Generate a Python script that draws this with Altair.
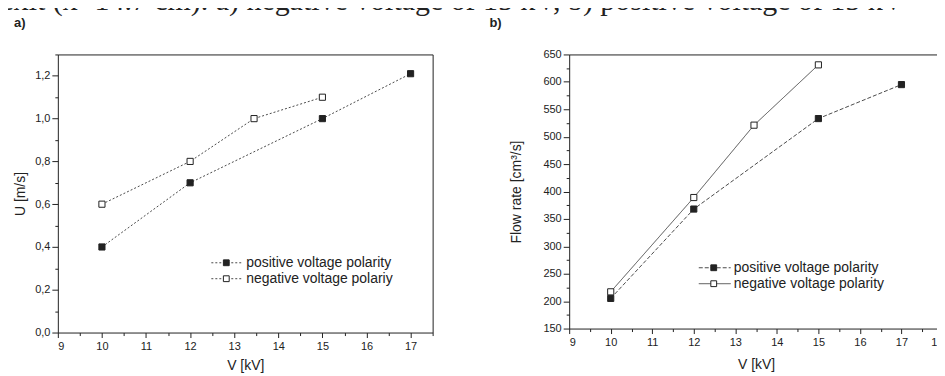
import altair as alt
import pandas as pd

# ---------------- data ----------------
# panel a) velocity U [m/s] vs voltage V [kV]
a_pos_v = [10, 12, 15, 17]
a_pos_u = [0.40, 0.70, 1.00, 1.21]
a_neg_v = [10, 12, 13.45, 15]
a_neg_u = [0.60, 0.80, 1.00, 1.10]
a_labels = ["positive voltage polarity", "negative voltage polariy"]

# panel b) flow rate [cm3/s] vs voltage V [kV]
b_pos_v = [10, 12, 15, 17]
b_pos_q = [205, 368, 533, 595]
b_neg_v = [10, 12, 13.45, 15]
b_neg_q = [217, 389, 521, 631]
b_labels = ["positive voltage polarity", "negative voltage polarity"]

a_xticks = [9, 9.5, 10, 10.5, 11, 11.5, 12, 12.5, 13, 13.5, 14, 14.5, 15, 15.5,
            16, 16.5, 17, 17.5]
a_yticks = [0.0, 0.1, 0.2, 0.3, 0.4, 0.5, 0.6, 0.7, 0.8, 0.9, 1.0, 1.1, 1.2, 1.3]
b_xticks = [9, 9.5, 10, 10.5, 11, 11.5, 12, 12.5, 13, 13.5, 14, 14.5, 15, 15.5,
            16, 16.5, 17, 17.5, 18]
b_yticks = [150, 175, 200, 225, 250, 275, 300, 325, 350, 375, 400, 425, 450,
            475, 500, 525, 550, 575, 600, 625, 650]

caption = "exit (x=14.7 cm). a) negative voltage of 15 kV, b) positive voltage of 15 kV"

FONT = "Liberation Sans"
INK = "#222222"
LINE = "#4a4a4a"


def panel(pv, py, nv, ny, labels, xdom, xticks, ydom, yticks,
          ytitle, ylabexpr, yminor_test, w, h, dash_pos, dash_neg, leg, ttl,
          ttl_dx, yext, ytp, xtp):
    dpos = pd.DataFrame({"V": pv, "Y": py})
    dneg = pd.DataFrame({"V": nv, "Y": ny})
    xs = alt.Scale(domain=xdom, nice=False, zero=False)
    ys = alt.Scale(domain=ydom, nice=False, zero=False)

    xaxis = alt.Axis(values=xticks, title="V [kV]",
                     labelExpr="datum.value % 1 ? '' : format(datum.value, 'd')",
                     tickSize=5,
                     tickDash={"condition": {"test": "datum.value % 1 !== 0", "value": [3, 20]}, "value": [20, 0]},
                     labelPadding=3, labelFontSize=11, titleFontSize=14,
                     titlePadding=xtp, titleFontWeight="normal", grid=False,
                     domain=False, tickColor=INK, labelColor=INK,
                     titleColor=INK, labelFont=FONT, titleFont=FONT,
                     labelOverlap=False)
    yaxis = alt.Axis(values=yticks, title=ytitle, labelExpr=ylabexpr,
                     tickSize=6,
                     tickDash={"condition": {"test": yminor_test, "value": [3, 20]}, "value": [20, 0]},
                     labelPadding=2, labelFontSize=11,
                     titleFontSize=14, titlePadding=ytp, minExtent=yext,
                     maxExtent=yext, titleFontWeight="normal", grid=False,
                     domain=False, tickColor=INK, labelColor=INK,
                     titleColor=INK, labelFont=FONT, titleFont=FONT,
                     labelOverlap=False)

    enc = dict(x=alt.X("V:Q", scale=xs, axis=xaxis),
               y=alt.Y("Y:Q", scale=ys, axis=yaxis))

    def series(d, dash, filled):
        line = alt.Chart(d).mark_line(color=LINE, strokeWidth=1,
                                      strokeDash=dash).encode(**enc)
        pt = alt.Chart(d).mark_point(shape="square", size=38, opacity=1,
                                     filled=True,
                                     fill=INK if filled else "white",
                                     stroke=INK, strokeWidth=1).encode(**enc)
        return [line, pt]

    layers = series(dpos, dash_pos, True) + series(dneg, dash_neg, False)

    # legend drawn by hand
    lx0, lx1, lxm, ltx, ly0, ly1 = leg
    for i, (lab, dash, filled) in enumerate([(labels[0], dash_pos, True),
                                             (labels[1], dash_neg, False)]):
        ly = ly0 if i == 0 else ly1
        dl = pd.DataFrame({"label": [lab]})
        layers.append(alt.Chart(dl).mark_rule(color=LINE, strokeWidth=1,
                                              strokeDash=dash).encode(
            x=alt.value(lx0), x2=alt.value(lx1), y=alt.value(ly)))
        layers.append(alt.Chart(dl).mark_point(shape="square", size=34,
                                               opacity=1, filled=True,
                                               fill=INK if filled else "white",
                                               stroke=INK, strokeWidth=1).encode(
            x=alt.value(lxm), y=alt.value(ly)))
        layers.append(alt.Chart(dl).mark_text(align="left", baseline="middle",
                                              font=FONT, fontSize=14,
                                              color=INK).encode(
            x=alt.value(ltx), y=alt.value(ly), text="label:N"))

    return alt.layer(*layers).properties(
        width=w, height=h,
        title=alt.TitleParams(ttl, anchor="start", frame="group", dx=ttl_dx,
                              fontSize=13, fontWeight="bold", font=FONT,
                              color=INK, offset=19))


comma = ("round(datum.value * 10) % 2 == 1 ? '' : "
         "replace(format(datum.value, '.1f'), '.', ',')")
left = panel(a_pos_v, a_pos_u, a_neg_v, a_neg_u, a_labels, [9, 17.5], a_xticks,
             [0, 1.3], a_yticks, "U [m/s]", comma,
             "round(datum.value * 10) % 2 == 1", 376, 279,
             [2, 2], [2, 2], (154, 186, 169, 189, 209, 225), "a)", -44, 25, 5, 7)
right = panel(b_pos_v, b_pos_q, b_neg_v, b_neg_q, b_labels, [9, 18], b_xticks,
              [150, 650], b_yticks, "Flow rate [cm³/s]",
              "datum.value % 50 ? '' : format(datum.value, 'd')",
              "datum.value % 50 !== 0", 375, 275, [4, 2], [1, 0],
              (130, 162, 145, 165, 214, 230), "b)", -80, 30, 16, 10)

chart = alt.hconcat(left, right, spacing=55).properties(
    padding={"top": -23, "left": -8, "right": -7, "bottom": 0},
    background="white",
    title=alt.TitleParams(caption, anchor="start", font="Liberation Serif",
                          fontSize=30, fontWeight="normal", color=INK,
                          offset=0, dx=-13),
).configure_view(stroke=INK, strokeWidth=1)

chart.save("out.html", embed_options={"renderer": "svg", "actions": False})
